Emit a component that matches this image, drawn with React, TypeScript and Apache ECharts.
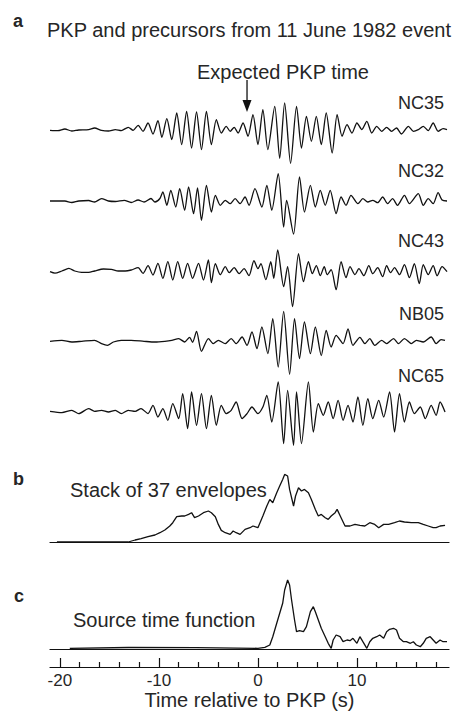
import React, { useEffect, useRef } from "react";
import * as echarts from "echarts";

// ---------- data ----------
const X_MIN = -21;
const X_MAX = 19.3;
const majorTicks = [-20, -10, 0, 10];
const minorTicks = [-18, -16, -14, -12, -8, -6, -4, -2, 2, 4, 6, 8, 12, 14, 16, 18];
const stations = ["NC35", "NC32", "NC43", "NB05", "NC65"];
const expectedPKP = -1.1;

const nc35: [number, number][] = [
  [-21.0, 0], [-20.2, -0.3], [-19.5, 1.3], [-18.8, -0.7], [-18.1, 0.3], [-17.1, 0.7], [-16.5, 2.3], [-15.8, 0],
  [-15.1, -0.7], [-14.4, 0.7], [-13.8, -0.3], [-13.1, 3], [-12.6, 0], [-12.1, 5], [-11.6, -1], [-11.1, 7.3],
  [-10.6, -3.7], [-10.1, 9.7], [-9.7, -7], [-9.2, 11.7], [-8.7, -9.3], [-8.2, 17.3], [-7.7, -14.3], [-7.2, 19],
  [-6.7, -17.7], [-6.2, 18.3], [-5.7, -19.3], [-5.2, 19], [-4.7, -14.3], [-4.2, 10.7], [-3.7, -2.7], [-3.2, 4],
  [-2.8, -1], [-2.4, 3], [-2.0, -2.7], [-1.5, 7.3], [-1.0, -6], [-0.5, 15.7], [0.0, -14.3], [0.5, 20.7],
  [1.0, -19.3], [1.7, 24], [2.2, -28], [2.7, 27.3], [3.3, -33], [3.9, 24], [4.4, -17.7], [4.9, 14],
  [5.4, -11], [5.9, 14], [6.4, -14.3], [6.9, 17.3], [7.5, -22.7], [8.0, 15.7], [8.5, -6], [9.0, 5.7],
  [9.5, -2.7], [10.0, 7.3], [10.5, 0.7], [11.0, 9], [11.5, -2.7], [12.0, 4], [12.5, -1], [13.0, 3],
  [13.5, -1], [14.0, 2.3], [14.5, -3.7], [15.2, 4], [15.7, -1], [16.2, 0.7], [16.7, 4], [17.2, -0.3],
  [17.7, 7.3], [18.2, -1], [18.7, 1.7], [19.1, 0.7],
];

const nc32: [number, number][] = [
  [-21.0, 0], [-19.5, 0], [-18.8, -1.5], [-18.1, 0], [-17.1, 0.5], [-16.5, -1], [-15.8, 2.3], [-15.1, 0],
  [-14.4, -0.5], [-13.5, 0.7], [-12.8, -1.5], [-12.1, 1], [-11.5, -1], [-10.8, 2.5], [-10.4, -1], [-9.9, 2.5],
  [-9.6, 9], [-9.2, -4.3], [-8.8, 10.7], [-8.3, -6], [-7.9, 12.3], [-7.4, -9.3], [-7.0, 14], [-6.5, -12.7],
  [-6.1, 13], [-5.7, -19.3], [-5.2, 15.7], [-4.7, -11], [-4.3, 5.7], [-3.8, -4.3], [-3.3, 0.7], [-2.8, -2.7],
  [-2.3, 2.3], [-1.8, -2.7], [-1.3, 4], [-0.9, -4.3], [-0.3, 12.3], [0.4, -6], [0.9, 15.7], [1.4, -9.3],
  [2.05, 27.3], [2.6, -26], [2.9, 0.7], [3.6, -33], [4.2, 24], [4.7, -11], [5.3, 15.7], [5.8, -6],
  [6.3, 10.7], [6.8, -4.3], [7.3, 10.7], [7.9, -12.7], [8.4, 4], [8.9, -4.3], [9.4, 5.7], [10.1, -2.7],
  [10.6, 2.3], [11.1, -1], [11.6, 0.7], [12.1, -1.7], [12.6, 4], [13.1, -2.7], [13.6, 2.3], [14.1, -4.3],
  [14.8, 5.7], [15.3, -2.7], [16.2, 7.3], [16.7, -4.3], [17.2, 2.3], [17.7, -2.7], [18.2, 8.3], [18.6, 1],
  [19.1, 0],
];

const nc43: [number, number][] = [
  [-21.0, 0], [-20.5, -1.5], [-19.8, 0.7], [-19.1, 3.3], [-18.5, 0.7], [-17.8, -0.7], [-17.1, -0.7], [-16.5, 0.7],
  [-15.6, 2.7], [-14.8, 2.3], [-14.1, 0.7], [-13.4, 0.7], [-12.8, 1.7], [-12.1, 4], [-11.6, -1.7], [-11.1, 6],
  [-10.6, -3.3], [-10.1, 8.3], [-9.6, -6.7], [-9.1, 10], [-8.6, -8.3], [-8.1, 10], [-7.6, -6.7], [-7.1, 8.3],
  [-6.6, -6.7], [-6.0, 8.3], [-5.5, -8.3], [-5.0, 11.7], [-4.7, -11], [-4.3, 8], [-3.8, -3], [-3.3, 5],
  [-2.9, -1], [-2.4, 4], [-1.9, -2], [-1.4, 3], [-0.9, -4], [-0.4, 11], [0.0, 3], [0.3, 8],
  [0.8, -8], [1.3, 10], [1.6, -6.7], [2.0, 21.7], [2.6, -15], [3.0, 5], [3.5, -35], [4.1, 18],
  [4.6, -10], [5.1, 10], [5.5, -2], [5.9, 6], [6.3, -4], [6.7, 5], [7.0, -3], [7.4, 2],
  [7.9, -18], [8.4, 10], [8.9, -6], [9.3, 5], [9.8, -3], [10.2, 3], [10.7, -4], [11.2, 6],
  [11.6, -2], [12.1, 4], [12.6, -5], [13.0, 6], [13.4, -1], [13.8, 4], [14.3, -3], [14.8, 7],
  [15.3, -6], [15.8, 8], [16.3, -12], [16.7, 7], [17.2, -3], [17.7, 6], [18.1, -4], [18.6, 5],
  [19.1, 0],
];

const nb05: [number, number][] = [
  [-21.0, 0], [-19.8, 1], [-18.8, -0.7], [-17.8, 0], [-16.5, 1], [-15.8, -2.3], [-15.2, -4], [-14.6, -0.7],
  [-13.8, 1], [-12.8, 1], [-11.5, 0], [-10.4, -0.7], [-9.4, 0], [-8.7, 1], [-8.0, 2.7], [-7.4, -0.7],
  [-6.9, 4], [-6.6, -1], [-6.2, 10], [-5.7, -10], [-5.0, 2.7], [-4.5, -2.3], [-4.0, 1], [-3.3, -2.3],
  [-2.7, 2.7], [-2.2, -2.3], [-1.6, 4.3], [-1.1, -4], [-0.6, 9.3], [-0.1, -7.3], [0.4, 14.3], [1.0, -12.3],
  [1.5, 22.7], [2.05, -25.7], [2.6, 30], [3.2, -33], [3.7, 22.7], [4.2, -17.3], [4.7, 19.3], [5.3, -12.3],
  [5.8, 14.3], [6.4, -14.3], [6.9, 11], [7.4, -5.7], [7.9, 6], [8.6, -2.3], [9.1, 12.3], [9.6, -4],
  [10.3, 4], [10.8, -2.3], [11.3, 2.7], [11.8, -4], [12.5, 1], [13.0, -2.3], [13.7, 2.7], [14.2, -2.3],
  [14.8, 2.7], [15.5, -2.3], [16.0, 1], [16.7, -0.7], [17.5, 4.3], [18.0, -2.3], [18.5, 1.7], [18.9, 1],
];

const nc65: [number, number][] = [
  [-21.0, 0], [-19.8, -1.3], [-18.8, 1], [-18.1, -2.3], [-17.1, 2.7], [-16.5, 0], [-15.8, 1], [-15.1, -0.7],
  [-14.4, 1], [-13.8, -2.3], [-13.1, 1], [-12.4, 0], [-11.8, 2.7], [-11.1, -2.3], [-10.6, 6], [-10.1, -5.7],
  [-9.6, 2.7], [-9.1, -9], [-8.6, 7.7], [-8.0, -7.3], [-7.6, 17.7], [-7.1, -17.3], [-6.7, 19.3], [-6.2, -14],
  [-5.7, 17.7], [-5.2, -17.3], [-4.7, 16], [-4.2, -14], [-3.7, 6], [-3.2, -2.3], [-2.7, 1], [-2.2, 9.3],
  [-1.6, -7.3], [-1.1, -2.3], [-0.6, 4.3], [0.0, -2.3], [0.5, 4.3], [0.9, 16], [1.4, -10.7], [2.05, 29.3],
  [2.6, -32.3], [3.0, 21], [3.6, -34], [3.9, 19.3], [4.4, -32.3], [5.1, 29.3], [5.6, -20.7], [6.1, 7.7],
  [6.6, -4], [7.1, 9.3], [7.6, -7.3], [8.1, 11], [8.6, -9], [9.1, 6], [9.6, -10.7], [10.1, 14.3],
  [10.6, -14], [11.1, 12.7], [11.6, -7.3], [12.2, 11], [12.7, -5.7], [13.3, 19.3], [13.8, -20.7], [14.3, 17.7],
  [14.8, -10.7], [15.3, 9.3], [15.8, -2.3], [16.4, 4.3], [16.9, -7.3], [17.5, 6], [18.0, -4], [18.4, 9.3],
  [18.9, -0.7],
];

const envelopeStack: [number, number][] = [
  [-20.3, 0.7], [-13.1, 0.7], [-12.4, 2.7], [-11.8, 4], [-11.1, 6], [-10.4, 7.7], [-9.9, 10], [-9.4, 12.7],
  [-8.9, 16.7], [-8.6, 20], [-8.2, 26], [-7.7, 26.7], [-7.4, 26.7], [-7.0, 28.3], [-6.7, 30], [-6.4, 25],
  [-6.0, 26.7], [-5.5, 30], [-5.0, 31.7], [-4.7, 30], [-4.3, 26], [-4.0, 18.3], [-3.7, 12.3], [-3.3, 10],
  [-2.8, 8.3], [-2.5, 11.7], [-2.2, 10], [-1.8, 8.3], [-1.3, 13.3], [-0.8, 15], [-0.5, 16.7], [0.0, 15],
  [0.5, 26.7], [0.9, 36.7], [1.2, 43.3], [1.5, 40], [1.9, 50], [2.2, 56.7], [2.5, 63.3], [2.7, 68.3],
  [3.0, 66.7], [3.2, 53.3], [3.6, 36.7], [3.8, 46.7], [4.1, 55], [4.4, 51.7], [4.7, 53.3], [5.1, 50],
  [5.4, 43.3], [5.8, 33.3], [6.1, 26.7], [6.4, 28.3], [6.8, 25], [7.1, 23.3], [7.4, 26.7], [7.8, 30],
  [8.0, 33.3], [8.4, 25], [8.8, 16.7], [9.3, 16.7], [9.8, 18.3], [10.3, 17.3], [10.8, 16.7], [11.3, 20],
  [11.8, 18.3], [12.2, 15], [12.7, 18.3], [13.2, 18.3], [13.8, 20], [14.3, 21.7], [14.8, 20.7], [15.5, 20],
  [16.2, 20], [16.7, 18.3], [17.2, 16.7], [17.7, 15], [18.0, 15], [18.4, 16.7], [18.9, 17.3],
];

const sourceTimeFn: [number, number][] = [
  [-19.0, 0.7], [-13.1, 1.5], [-6.2, 1.3], [0.0, 0.7], [0.7, 1.7], [1.2, 4], [1.5, 12.3], [1.9, 25.7],
  [2.2, 35.7], [2.5, 45.7], [2.7, 59], [3.0, 69], [3.2, 64], [3.4, 49], [3.7, 29], [3.9, 17.3],
  [4.2, 18.3], [4.6, 17.3], [4.9, 22.3], [5.3, 37.3], [5.6, 42.3], [5.8, 37.3], [6.1, 29], [6.4, 20.7],
  [6.8, 12.3], [7.1, 5.7], [7.4, 0.7], [7.6, 9], [7.9, 14], [8.3, 12.3], [8.6, 7.3], [9.0, 9],
  [9.3, 8.3], [9.6, 10.7], [10.0, 5.7], [10.3, 12.3], [10.6, 7.3], [11.0, 0.7], [11.3, 7.3], [11.6, 10.7],
  [12.0, 12.3], [12.3, 14], [12.7, 10.7], [13.0, 17.3], [13.3, 19.7], [13.7, 20.7], [14.0, 19], [14.3, 10.7],
  [14.7, 7.3], [15.0, 7.3], [15.4, 5.7], [15.7, 7.3], [16.0, 4], [16.4, 2.3], [16.7, 5.7], [17.0, 10.7],
  [17.4, 12.3], [17.7, 9], [18.0, 5.7], [18.4, 9], [18.7, 7.3], [19.1, 7.3],
];

// ---------- layout ----------
const LEFT = 50;
const WIDTH = 399;
const FONT = "'Liberation Sans', Arial, Helvetica, sans-serif";
const TEXT = "#262626";
const traceCenters = [130.3, 201, 271.7, 341.3, 411.3];
const labelYs = [102.5, 170.5, 240.5, 313.5, 376];
const HALF = 35;
const PANEL_H = 75;
const bBase = 542.7;
const cBase = 649;
const axisY = 667;

export default function App() {
  const ref = useRef<HTMLDivElement>(null);

  useEffect(() => {
    if (!ref.current) return;
    const chart = echarts.init(ref.current, undefined, { renderer: "svg" });
    const traces = [nc35, nc32, nc43, nb05, nc65];

    const grids: any[] = traceCenters.map((c) => ({
      left: LEFT, width: WIDTH, top: c - HALF, height: 2 * HALF,
    }));
    grids.push({ left: LEFT, width: WIDTH, top: bBase - PANEL_H, height: PANEL_H });
    grids.push({ left: LEFT, width: WIDTH, top: cBase - PANEL_H, height: PANEL_H });

    const hiddenX = (i: number) => ({
      type: "value", gridIndex: i, min: X_MIN, max: X_MAX, show: false,
    });
    const xAxes: any[] = traces.map((_, i) => hiddenX(i));
    const baselineX = (i: number) => ({
      type: "value", gridIndex: i, min: X_MIN, max: X_MAX, position: "bottom",
      axisLine: { show: true, onZero: false, lineStyle: { color: "#111", width: 1.2 } },
      axisTick: { show: false }, axisLabel: { show: false }, splitLine: { show: false },
    });
    xAxes.push(baselineX(5));
    xAxes.push(baselineX(6));
    // labeled time axis (index 7)
    xAxes.push({
      type: "value", gridIndex: 6, min: X_MIN, max: X_MAX, position: "bottom",
      offset: axisY - cBase,
      axisLine: { show: true, onZero: false, lineStyle: { color: "#111", width: 1.2 } },
      axisTick: { show: true, inside: true, length: 9, customValues: majorTicks, lineStyle: { color: "#111", width: 1.2 } },
      axisLabel: { show: true, customValues: majorTicks, margin: 5, fontSize: 17, color: TEXT, fontFamily: FONT },
      splitLine: { show: false },
      name: "Time relative to PKP (s)", nameLocation: "middle", nameGap: 21,
      nameTextStyle: { fontSize: 20, color: TEXT, fontFamily: FONT },
    });
    // minor ticks (index 8)
    xAxes.push({
      type: "value", gridIndex: 6, min: X_MIN, max: X_MAX, position: "bottom",
      offset: axisY - cBase,
      axisLine: { show: false, onZero: false },
      axisTick: { show: true, inside: true, length: 5, customValues: minorTicks, lineStyle: { color: "#111", width: 1.2 } },
      axisLabel: { show: false }, splitLine: { show: false },
    });

    const yAxes: any[] = traces.map((_, i) => ({
      type: "value", gridIndex: i, min: -HALF, max: HALF, show: false,
    }));
    yAxes.push({ type: "value", gridIndex: 5, min: 0, max: PANEL_H, show: false });
    yAxes.push({ type: "value", gridIndex: 6, min: 0, max: PANEL_H, show: false });

    const lineSeries = (d: [number, number][], i: number, w = 1.2, smooth = 0) => ({
      type: "line", xAxisIndex: i, yAxisIndex: i, data: d, symbol: "none",
      showSymbol: false, silent: true, clip: false, smooth,
      lineStyle: { color: "#111", width: w },
    });
    const series: any[] = traces.map((d, i) => lineSeries(d, i, 1.3, 0.25));
    series.push(lineSeries(envelopeStack, 5, 1.3));
    series.push(lineSeries(sourceTimeFn, 6, 1.3));

    const textEl = (text: string, x: number, y: number, opts: any = {}) => ({
      type: "text", x, y,
      style: {
        text, fill: TEXT, font: `${opts.weight || "normal"} ${opts.size || 20}px ${FONT}`,
        align: opts.align || "left", verticalAlign: "middle",
      },
    });

    const arrowX = LEFT + ((expectedPKP - X_MIN) / (X_MAX - X_MIN)) * WIDTH;
    const graphic: any[] = [
      textEl("a", 13, 21, { weight: "bold", size: 18 }),
      textEl("PKP and precursors from 11 June 1982 event", 47, 30),
      textEl("Expected PKP time", 197, 72),
      { type: "line", shape: { x1: arrowX, y1: 80, x2: arrowX, y2: 101 }, style: { stroke: "#111", lineWidth: 1.3 } },
      { type: "polygon", shape: { points: [[arrowX - 4.5, 100], [arrowX + 4.5, 100], [arrowX, 112]] }, style: { fill: "#111" } },
      ...stations.map((s, i) => textEl(s, 444, labelYs[i], { align: "right", size: 18 })),
      textEl("b", 13, 479, { weight: "bold", size: 18 }),
      textEl("Stack of 37 envelopes", 70, 490),
      textEl("c", 14, 596, { weight: "bold", size: 18 }),
      textEl("Source time function", 73, 620),
    ];

    chart.setOption({
      animation: false,
      backgroundColor: "#fff",
      grid: grids,
      xAxis: xAxes,
      yAxis: yAxes,
      series,
      graphic,
    });
    return () => chart.dispose();
  }, []);

  return <div ref={ref} style={{ width: 457, height: 720, position: "absolute", left: 0, top: 0 }} />;
}
